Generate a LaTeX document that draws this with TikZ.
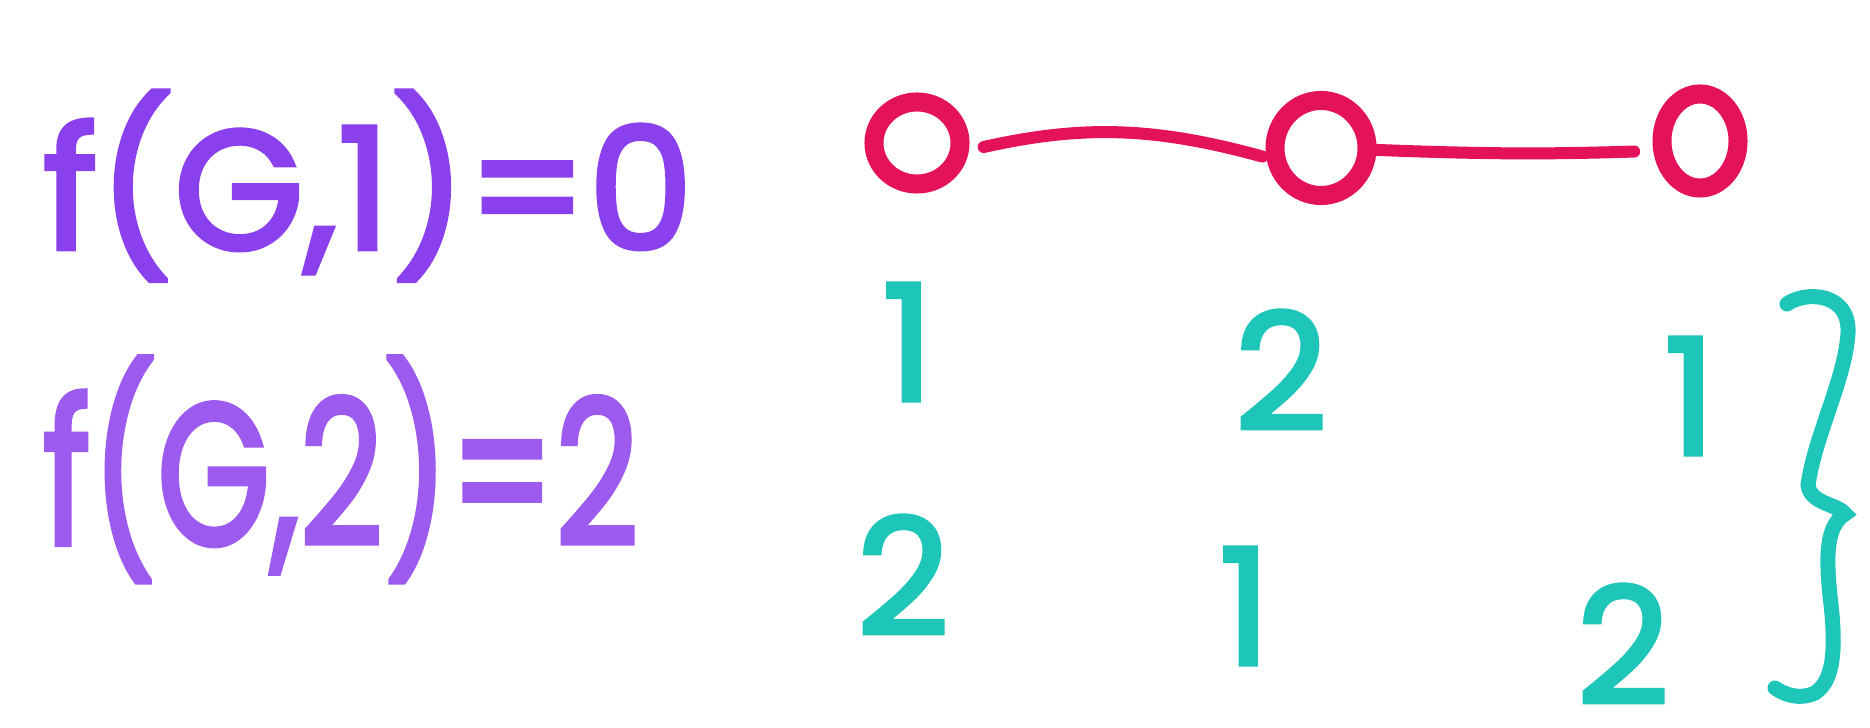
\documentclass[tikz,border=0pt]{standalone}
\usepackage{fontspec}
\setmainfont{Poppins}
\newfontfamily\handfont{Poppins}[FakeBold=2.6]
\usetikzlibrary{shapes.geometric}
\definecolor{purp}{RGB}{138,64,236}
\definecolor{purplight}{RGB}{156,90,238}
\definecolor{rosered}{RGB}{228,18,90}
\definecolor{tealc}{RGB}{30,198,186}
\begin{document}
\begin{tikzpicture}[x=0.01cm,y=-0.01cm,
  vert/.style={ellipse, draw=rosered, line width=0.19cm, inner sep=0},
  gedge/.style={draw=rosered, line width=0.12cm, line cap=round},
  eq/.style={anchor=north west, inner sep=0, font=\handfont},
  num/.style={text=tealc, inner sep=0, font=\handfont\fontsize{46}{46}\selectfont},
  bracestroke/.style={draw=tealc, line width=0.15cm, line cap=round}]
\useasboundingbox[fill=white] (0,0) rectangle (1870,728);
% equations
\node[eq, text=purp] (eq1) at (42,90) {\resizebox*{6.5cm}{1.9cm}{f(G,1)=0}};
\node[eq, text=purplight] (eq2) at (42,356) {\resizebox*{5.96cm}{2.25cm}{f(G,2)=2}};
% graph
\node[vert, minimum width=0.86cm, minimum height=0.82cm] (A) at (917,143) {};
\node[vert, minimum width=0.92cm, minimum height=0.95cm] (B) at (1321,148) {};
\node[vert, minimum width=0.76cm, minimum height=0.94cm] (C) at (1700,141) {};
\draw[gedge, shorten <=0.15cm, shorten >=0.04cm] (A.-8) to[bend left=14] (B.190);
\draw[gedge, shorten >=0.19cm] (B.-2) to[bend right=2] (C.-168);
% colourings
\node[num] (a1) at (908,342) {1};
\node[num] (b1) at (1281,370) {2};
\node[num] (c1) at (1690,396) {1};
\node[num] (a2) at (903,575) {2};
\node[num] (b2) at (1245,606) {1};
\node[num] (c2) at (1623,644) {2};
% brace
\draw[bracestroke] (1787,304) .. controls (1805,291) and (1850,292) .. (1848,333)
  .. controls (1845,380) and (1815,435) .. (1808,485)
  .. controls (1810,504) and (1838,504) .. (1845,514)
  .. controls (1826,526) and (1826,556) .. (1830,596)
  .. controls (1836,645) and (1835,680) .. (1815,693)
  .. controls (1800,700) and (1785,695) .. (1775,688);
\end{tikzpicture}
\end{document}
